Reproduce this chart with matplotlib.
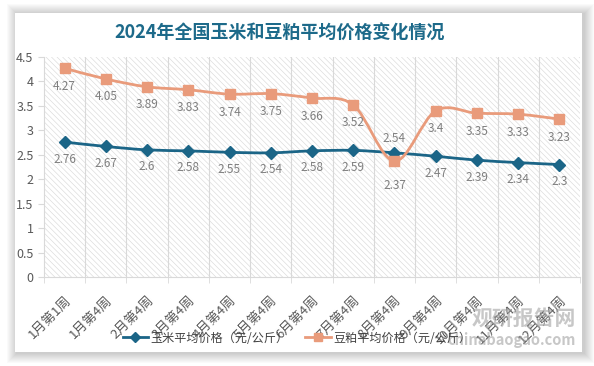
import matplotlib
matplotlib.use("Agg")
import matplotlib.pyplot as plt
import numpy as np
from matplotlib.patches import Rectangle, PathPatch
from matplotlib.path import Path
from matplotlib.lines import Line2D

plt.rcParams["font.family"] = ["Noto Sans CJK SC", "DejaVu Sans"]
plt.rcParams["hatch.color"] = "#DADADA"
plt.rcParams["hatch.linewidth"] = 0.45

# ── data ────────────────────────────────────────────────────────────
weeks = ["1月第1周", "1月第4周", "2月第4周", "3月第4周", "4月第4周", "5月第4周",
         "6月第4周", "7月第4周", "8月第4周", "9月第4周", "10月第4周", "11月第4周",
         "12月第4周"]
corn = [2.76, 2.67, 2.6, 2.58, 2.55, 2.54, 2.58, 2.59, 2.54, 2.47, 2.39, 2.34, 2.3]
soymeal = [4.27, 4.05, 3.89, 3.83, 3.74, 3.75, 3.66, 3.52, 2.37, 3.4, 3.35, 3.33, 3.23]
corn_label = "玉米平均价格（元/公斤）"
soy_label = "豆粕平均价格（元/公斤）"
title = "2024年全国玉米和豆粕平均价格变化情况"

CORN_C = "#1B6587"
SOY_C = "#E99B7B"
LABEL_C = "#7F7F7F"


def smooth_path(xs, ys):
    """Catmull-Rom style bezier through the points (Excel smoothed line)."""
    pts = np.column_stack([xs, ys]).astype(float)
    verts = [pts[0]]
    codes = [Path.MOVETO]
    n = len(pts)
    for i in range(n - 1):
        p0 = pts[i - 1] if i > 0 else pts[i]
        p1, p2 = pts[i], pts[i + 1]
        p3 = pts[i + 2] if i + 2 < n else pts[i + 1]
        c1 = p1 + (p2 - p0) / 6.0
        c2 = p2 - (p3 - p1) / 6.0
        verts += [c1, c2, p2]
        codes += [Path.CURVE4] * 3
    return Path(verts, codes)


W, H = 594, 366
fig = plt.figure(figsize=(W / 100, H / 100), dpi=100)
fig.patch.set_facecolor("white")

# card with soft shadow
for k in range(10, 0, -1):
    fig.patches.append(Rectangle(
        ((15 - k + 2) / W, (H - 352 - k - 1) / H), (567 + 2 * k) / W, (339 + 2 * k) / H,
        transform=fig.transFigure, facecolor="black", alpha=0.018, edgecolor="none",
        zorder=0))
fig.patches.append(Rectangle((15 / W, (H - 352) / H), 567 / W, 339 / H,
                             transform=fig.transFigure, facecolor="white",
                             edgecolor="none", zorder=1))

ax = fig.add_axes([44 / W, (H - 277) / H, (580 - 44) / W, (277 - 57) / H])
ax.set_facecolor("none")
ax.set_zorder(2)

x = np.arange(len(weeks))
ax.set_xlim(-0.5, len(weeks) - 0.5)
ax.set_ylim(0, 4.5)

ax.add_patch(Rectangle((0, 0), 1, 1, transform=ax.transAxes, facecolor="white",
                       hatch="\\\\\\\\\\\\", edgecolor="#DADADA", linewidth=0, zorder=0))
for b in np.arange(0.5, len(weeks) - 0.5, 1):
    ax.axvline(b, color="#D9D9D9", linewidth=0.8, zorder=1)

for ys, color, marker, ms in [
    (corn, CORN_C, "D", 6),
    (soymeal, SOY_C, "s", 7.5),
]:
    ax.add_patch(PathPatch(smooth_path(x, ys), facecolor="none", edgecolor=color,
                           linewidth=2, zorder=3))
    ax.plot(x, ys, linestyle="none", color=color, marker=marker,
            markersize=ms, zorder=4)

for i, v in enumerate(corn):
    dy = 14 if i == 8 else -17
    ax.annotate(f"{v:g}", (x[i], v), xytext=(0, dy), textcoords="offset pixels",
                ha="center", va="center", fontsize=8.5, color=LABEL_C, zorder=5)
for i, v in enumerate(soymeal):
    dy = -24 if i == 8 else -18
    ax.annotate(f"{v:g}", (x[i], v), xytext=(0, dy), textcoords="offset pixels",
                ha="center", va="center", fontsize=8.5, color=LABEL_C, zorder=5)

yt = np.arange(0, 4.51, 0.5)
ax.set_yticks(yt)
ax.set_yticklabels([f"{t:g}" for t in yt])
ax.set_xticks(x)
ax.set_xticklabels(weeks, rotation=45, ha="right", va="top", rotation_mode="anchor")
ax.tick_params(axis="y", labelsize=9, colors="#595959", length=4, color="#D9D9D9")
ax.tick_params(axis="x", labelsize=9.5, colors="#595959", length=0, pad=12)
ax.set_xticks(np.arange(-0.5, len(weeks), 1), minor=True)
ax.tick_params(axis="x", which="minor", length=4, color="#D9D9D9")
for s in ["top", "right"]:
    ax.spines[s].set_visible(False)
for s in ["left", "bottom"]:
    ax.spines[s].set_color("#D9D9D9")

# watermark (behind legend)
fig.text(576 / W, (H - 318) / H, "观研报告网", ha="right", va="center", fontsize=15,
         fontweight="bold", color="#9A9A9A", alpha=0.55, zorder=6)
fig.text(576 / W, (H - 340) / H, "chinabaogao.com", ha="right", va="center",
         fontsize=10.5, fontweight="bold", color="#9A9A9A", alpha=0.55, zorder=6)

handles = [Line2D([], [], color=CORN_C, marker="D", markersize=5, linewidth=2),
           Line2D([], [], color=SOY_C, marker="s", markersize=6, linewidth=2)]
leg = fig.legend(handles, [corn_label, soy_label], loc="center", ncol=2, frameon=False,
                 bbox_to_anchor=(297 / W, (H - 338) / H), fontsize=8.7, handlelength=2.1,
                 columnspacing=1.4, handletextpad=0.2, labelcolor="#404040")
leg.set_zorder(7)

fig.text(280 / W, (H - 33) / H, title, ha="center", va="center", fontsize=13,
         fontweight="bold", color="#1D6A8A")

fig.savefig("out.png", dpi=100)
